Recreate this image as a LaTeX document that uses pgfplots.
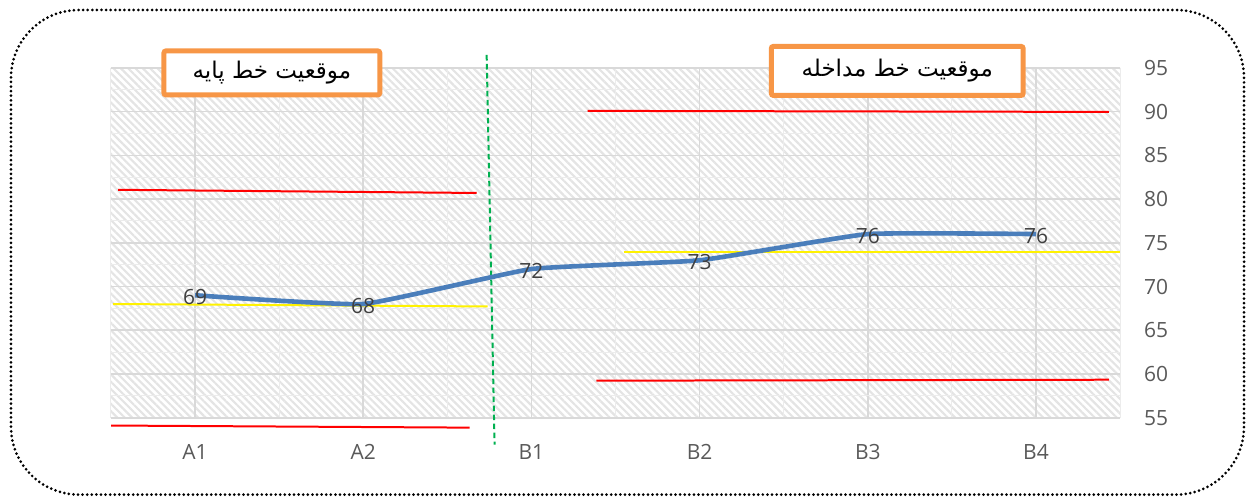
\documentclass[border=0pt]{standalone}
\usepackage{fontspec}
\setmainfont{Open Sans}
\newfontfamily\arabicfont[Script=Arabic]{DejaVu Sans}
\TeXXeTstate=1
\usepackage{pgfplots}
\pgfplotsset{compat=1.18}
\usetikzlibrary{patterns.meta}
\definecolor{lineblue}{RGB}{74,126,187}
\definecolor{boxorange}{RGB}{247,150,70}
\definecolor{gridgray}{RGB}{217,217,217}
\definecolor{hatchgray}{RGB}{228,228,228}
\definecolor{ticktext}{RGB}{89,89,89}
\definecolor{labeltext}{RGB}{64,64,64}
\definecolor{greendash}{RGB}{0,176,80}
\begin{document}
\begin{tikzpicture}
\begin{axis}[
    at={(0,0)}, anchor=south west,
    scale only axis,
    width=505pt, height=175pt,
    xmin=-0.5, xmax=5.5,
    ymin=55, ymax=95,
    xtick={0,...,5},
    xticklabels={A1,A2,B1,B2,B3,B4},
    minor xtick={-0.5,0.5,...,5.5},
    ytick={55,60,...,95},
    minor ytick={57.5,62.5,...,92.5},
    axis x line*=bottom,
    axis y line*=right,
    x axis line style={draw=gridgray, line width=1pt, -},
    y axis line style={draw=none},
    major tick length=0pt, minor tick length=0pt,
    xmajorgrids, xminorgrids, ymajorgrids, yminorgrids,
    major grid style={draw=gridgray, line width=0.8pt},
    minor grid style={draw=gridgray!50, line width=0.5pt},
    axis background/.style={pattern={Lines[angle=-45,distance=2.6pt,line width=1.1pt]}, pattern color=hatchgray},
    /pgf/number format/assume math mode=true,
    tick label style={font=\fontsize{10.5}{12}\selectfont, text=ticktext},
    x tick label style={anchor=center, yshift=-17pt},
    y tick label style={anchor=center, xshift=18pt},
    clip=false,
]
% red range lines
\addplot[red, line width=1pt] coordinates {(-0.457,81.06) (1.675,80.7)};
\addplot[red, line width=1pt] coordinates {(-0.499,54.1) (1.633,53.86)};
\addplot[red, line width=1pt] coordinates {(2.334,90.09) (5.434,89.97)};
\addplot[red, line width=1pt] coordinates {(2.387,59.23) (5.434,59.34)};
% yellow mean lines
\addplot[yellow, line width=1pt] coordinates {(-0.487,68.0) (1.740,67.72)};
\addplot[yellow, line width=1pt] coordinates {(2.553,73.97) (5.499,73.97)};
% phase change line
\addplot[greendash, line width=1pt, dash pattern=on 2.8pt off 1.7pt] coordinates {(1.734,96.49) (1.781,51.91)};
% data
\addplot[lineblue, line width=2.3pt, smooth, tension=0.22,
    nodes near coords,
    nodes near coords style={anchor=center, yshift=-1pt, font=\fontsize{10.5}{12}\selectfont, text=labeltext},
    ] coordinates {(0,69) (1,68) (2,72) (3,73) (4,76) (5,76)};
% phase boxes
\node[draw=boxorange, line width=2.5pt, fill=white, rounded corners=1pt,
    minimum width=108pt, minimum height=22pt, inner sep=0pt,
    font=\arabicfont\fontsize{11.5}{13}\selectfont]
    at (axis cs:0.457,94.43) {\beginR موقعیت خط پایه\endR};
\node[draw=boxorange, line width=2.5pt, fill=white, rounded corners=1pt,
    minimum width=126pt, minimum height=24.5pt, inner sep=0pt,
    font=\arabicfont\fontsize{11.5}{13}\selectfont]
    at (axis cs:4.175,94.66) {\beginR موقعیت خط مداخله\endR};
\end{axis}
\draw[line width=1.5pt, dash pattern=on 0pt off 2.3pt, line cap=round, rounded corners=34pt]
    (-50pt,-38.5pt) rectangle (567pt,204pt);
\pgfresetboundingbox
\path (-55.5pt,-40.5pt) rectangle (569.5pt,209pt);
\end{tikzpicture}
\end{document}
